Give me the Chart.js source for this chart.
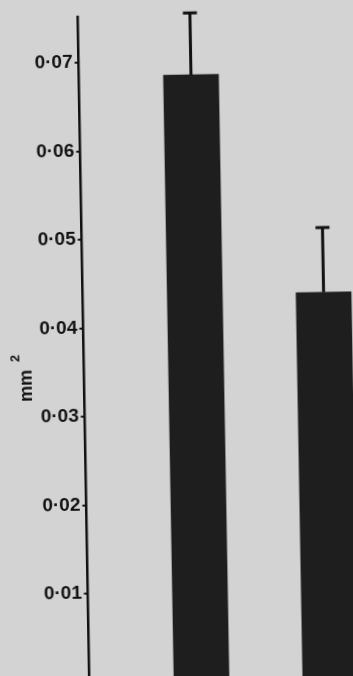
<!DOCTYPE html>
<html>
<head>
<meta charset="utf-8">
<script src="https://cdn.jsdelivr.net/npm/chart.js@4"></script>
<style>
  html, body { margin: 0; padding: 0; width: 353px; height: 676px; overflow: hidden; background: #d3d3d3; }
  #wrap { position: absolute; left: -10px; top: -10px; width: 373px; height: 696px; transform: rotate(-1deg); transform-origin: 186.5px 348px; }
  canvas { display: block; }
</style>
</head>
<body>
<div id="wrap"><canvas id="c" width="373" height="696"></canvas></div>
<script>
// ---- data ----
const categories = ['Group 1', 'Group 2'];
const areaValues = [0.0684, 0.0436];      // bar heights (mm²)
const errValues  = [0.0070, 0.0073];      // upper error bars
const tickValues = [0.01, 0.02, 0.03, 0.04, 0.05, 0.06, 0.07];
const tickLabels = ['0·01', '0·02', '0·03', '0·04', '0·05', '0·06', '0·07'];
const yTitleMain = 'mm';
const yTitleSup = '2';

const INK = '#111111';

const errorBars = {
  id: 'errorBars',
  afterDatasetsDraw(chart) {
    const ctx = chart.ctx, ys = chart.scales.y;
    const meta = chart.getDatasetMeta(0);
    ctx.save();
    ctx.strokeStyle = INK;
    ctx.lineWidth = 3;
    meta.data.forEach((bar, i) => {
      const top = ys.getPixelForValue(areaValues[i] + errValues[i]);
      ctx.beginPath(); ctx.moveTo(bar.x, bar.y); ctx.lineTo(bar.x, top); ctx.stroke();
      ctx.beginPath(); ctx.moveTo(bar.x - 7, top); ctx.lineTo(bar.x + 7, top); ctx.stroke();
    });
    ctx.restore();
  }
};

const yTitle = {
  id: 'yTitle',
  afterDraw(chart) {
    const ctx = chart.ctx, ys = chart.scales.y;
    ctx.save();
    ctx.translate(chart.chartArea.left - 53, ys.getPixelForValue(0.0318));
    ctx.rotate(-Math.PI / 2);
    ctx.fillStyle = INK;
    ctx.textBaseline = 'alphabetic';
    ctx.font = 'bold 18px "Liberation Sans"';
    ctx.fillText(yTitleMain, 0, 0);
    const w = ctx.measureText(yTitleMain).width;
    ctx.font = 'bold 13px "Liberation Sans"';
    ctx.fillText(yTitleSup, w + 8, -12);
    ctx.restore();
  }
};

new Chart(document.getElementById('c'), {
  type: 'bar',
  data: {
    datasets: [{
      label: 'Area',
      data: categories.map((c, i) => ({ x: i + 1, y: areaValues[i] })),
      backgroundColor: '#1e1e1e',
      borderWidth: 0,
      barThickness: 55
    }]
  },
  options: {
    responsive: false,
    animation: false,
    devicePixelRatio: 1,
    layout: { padding: { top: 25, left: 0, right: 0, bottom: 0 } },
    plugins: { legend: { display: false }, tooltip: { enabled: false } },
    scales: {
      x: {
        type: 'linear',
        offset: false,
        min: 0.13,
        max: 2.3,
        display: false
      },
      y: {
        min: -0.0006,
        max: 0.0752,
        afterFit(scale) {
          scale.width = 93.5;
          scale.paddingTop = 0;
          scale.paddingBottom = 0;
        },
        afterBuildTicks(scale) { scale.ticks = tickValues.map(v => ({ value: v })); },
        ticks: {
          color: INK,
          padding: 2,
          font: { family: '"Liberation Sans"', size: 19, weight: 'bold' },
          callback: (v, i) => tickLabels[i]
        },
        grid: { drawOnChartArea: false, color: INK, lineWidth: 2, tickLength: 4 },
        border: { color: INK, width: 2.5 }
      }
    }
  },
  plugins: [errorBars, yTitle]
});
</script>
</body>
</html>
